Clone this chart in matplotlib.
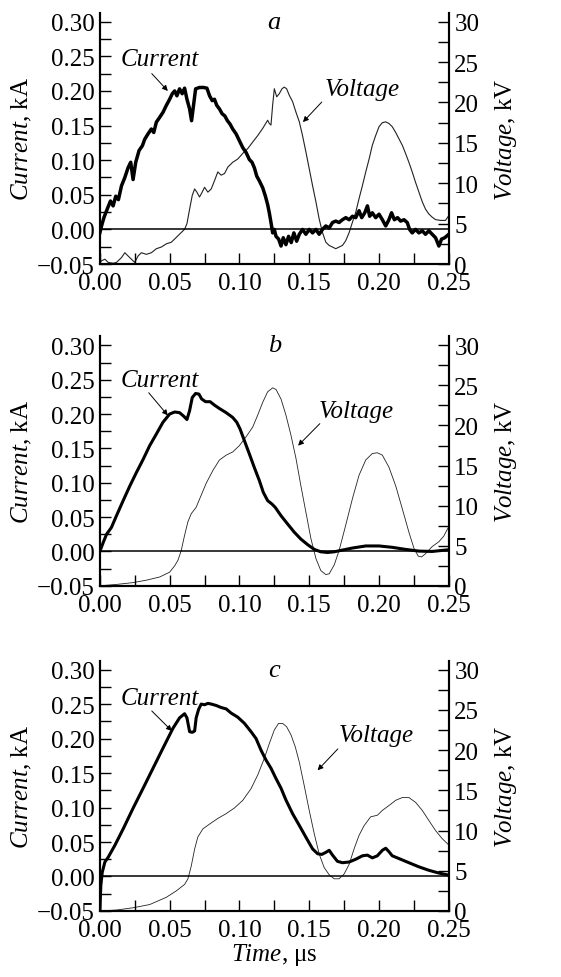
import matplotlib
matplotlib.use("Agg")
import matplotlib.pyplot as plt
from matplotlib.ticker import MultipleLocator

plt.rcParams.update({
    'font.family': 'Liberation Serif',
    'font.size': 18,
    'mathtext.fontset': 'custom',
    'mathtext.rm': 'Liberation Serif',
    'mathtext.it': 'Liberation Serif:italic',
})

# ---- panel a: measured (noisy) ----
a_cur_t = [0, 0.0012, 0.0029, 0.0052, 0.0076, 0.0095, 0.0114, 0.0133, 0.0155, 0.0179,
           0.0202, 0.0221, 0.0238, 0.0257, 0.0281, 0.0305, 0.0321, 0.0345, 0.0369, 0.0386,
           0.0405, 0.0429, 0.0452, 0.0476, 0.05, 0.0519, 0.0536, 0.0552, 0.0571, 0.059,
           0.0607, 0.0624, 0.0643, 0.0657, 0.0671, 0.0686, 0.0714, 0.0743, 0.0767, 0.0786,
           0.0805, 0.0821, 0.0838, 0.0857, 0.0876, 0.0895, 0.0914, 0.0933, 0.0952, 0.0976,
           0.10, 0.1024, 0.1048, 0.1071, 0.109, 0.1107, 0.1124, 0.1143, 0.1167, 0.1186,
           0.1202, 0.1214, 0.1226, 0.1238, 0.125, 0.1262, 0.1281, 0.1298, 0.1314, 0.1333,
           0.1352, 0.1371, 0.139, 0.141, 0.1429, 0.1452, 0.1476, 0.15, 0.1524, 0.1548,
           0.1571, 0.1595, 0.1619, 0.1643, 0.1667, 0.169, 0.1714, 0.1738, 0.1762, 0.1786,
           0.181, 0.1833, 0.1857, 0.1876, 0.1898, 0.1917, 0.1933, 0.1952, 0.1976, 0.2,
           0.2024, 0.2048, 0.2071, 0.209, 0.211, 0.2133, 0.2155, 0.2179, 0.2202, 0.2219,
           0.2238, 0.2262, 0.2286, 0.231, 0.2333, 0.2357, 0.2381, 0.2405, 0.2429, 0.2448,
           0.2471, 0.25]
a_cur_i = [-0.005, 0.005, 0.017, 0.029, 0.041, 0.034, 0.048, 0.043, 0.063, 0.075,
           0.089, 0.097, 0.072, 0.097, 0.114, 0.121, 0.130, 0.138, 0.145, 0.140,
           0.155, 0.162, 0.169, 0.179, 0.188, 0.196, 0.200, 0.193, 0.203, 0.196,
           0.204, 0.188, 0.174, 0.157, 0.179, 0.203, 0.205, 0.205, 0.204, 0.193,
           0.186, 0.188, 0.179, 0.174, 0.167, 0.164, 0.157, 0.152, 0.145, 0.138,
           0.128, 0.118, 0.111, 0.101, 0.097, 0.089, 0.077, 0.070, 0.060, 0.048,
           0.036, 0.024, 0.010, -0.005, 0.000, -0.010, -0.014, -0.024, -0.012, -0.022,
           -0.010, -0.019, -0.005, -0.017, -0.007, 0.000, -0.007, 0.000, -0.005, 0.000,
           -0.007, 0.000, 0.005, 0.002, 0.010, 0.012, 0.010, 0.014, 0.017, 0.014,
           0.019, 0.017, 0.027, 0.017, 0.024, 0.034, 0.019, 0.024, 0.017, 0.022,
           0.014, 0.005, 0.014, 0.024, 0.014, 0.017, 0.012, 0.014, 0.010, 0.000,
           -0.005, 0.000, -0.005, -0.002, -0.007, -0.002, -0.007, -0.012, -0.024, -0.014,
           -0.012, -0.007]
a_volt_t = [0, 0.0012, 0.0036, 0.006, 0.0095, 0.0119, 0.0155, 0.0179, 0.0202, 0.0226,
            0.025, 0.0274, 0.0298, 0.0333, 0.0369, 0.0405, 0.044, 0.0476, 0.0512, 0.0536,
            0.0571, 0.0607, 0.0624, 0.0643, 0.0662, 0.0679, 0.0695, 0.0714, 0.0733, 0.075,
            0.0774, 0.0798, 0.0821, 0.0845, 0.0869, 0.0893, 0.0917, 0.0952, 0.0988, 0.1024,
            0.106, 0.1095, 0.1131, 0.1167, 0.1202, 0.1214, 0.1226, 0.1238, 0.125, 0.1267,
            0.1286, 0.1305, 0.1321, 0.1338, 0.1357, 0.1381, 0.1405, 0.1429, 0.1452, 0.1476,
            0.15, 0.1524, 0.1548, 0.1571, 0.1595, 0.1619, 0.1643, 0.1667, 0.169, 0.1714,
            0.1738, 0.1762, 0.1786, 0.181, 0.1833, 0.1857, 0.1881, 0.1905, 0.1929, 0.1952,
            0.1976, 0.2, 0.2024, 0.2048, 0.2071, 0.2095, 0.2119, 0.2143, 0.2167, 0.219,
            0.2214, 0.2238, 0.2262, 0.2286, 0.231, 0.2333, 0.2357, 0.2381, 0.2405, 0.244,
            0.2476, 0.25]
a_volt_v = [0.2, 0.4, 0.6, 0.2, 0.1, 0.2, 0.8, 1.4, 1.0, 0.6,
            0.2, 1.0, 1.4, 1.2, 1.4, 1.9, 2.1, 2.5, 2.7, 3.1,
            3.7, 4.3, 5.0, 6.8, 8.5, 9.3, 8.9, 8.3, 8.9, 9.5,
            8.9, 9.3, 10.3, 11.4, 11.0, 11.2, 12.0, 12.6, 13.0, 13.7,
            14.3, 15.1, 15.9, 16.8, 17.8, 17.4, 17.2, 19.7, 21.7, 20.7,
            21.1, 21.7, 21.9, 21.7, 20.9, 20.1, 18.8, 17.6, 15.9, 13.9,
            11.8, 9.7, 7.7, 5.6, 3.9, 2.7, 2.3, 2.1, 1.9, 2.1,
            2.3, 2.9, 3.9, 5.2, 6.4, 8.1, 9.7, 11.4, 13.0, 14.7,
            15.9, 17.0, 17.5, 17.6, 17.4, 17.0, 16.3, 15.5, 14.7, 13.7,
            12.6, 11.4, 10.1, 8.9, 7.7, 6.8, 6.2, 5.8, 5.5, 5.4,
            5.4, 6.0]

# ---- panel b: calculated ----
b_cur_t = [0, 0.0024, 0.0048, 0.0083, 0.0119, 0.0167, 0.0214, 0.0262, 0.031, 0.0357,
           0.0405, 0.0452, 0.05, 0.0536, 0.0571, 0.06, 0.0624, 0.0643, 0.0662, 0.0686,
           0.071, 0.0729, 0.0757, 0.079, 0.0821, 0.0857, 0.0905, 0.0952, 0.0981, 0.1005,
           0.1036, 0.1071, 0.1107, 0.1143, 0.1171, 0.1202, 0.1233, 0.1257, 0.1298, 0.1345,
           0.1393, 0.144, 0.1488, 0.1536, 0.1583, 0.1631, 0.1679, 0.1738, 0.181, 0.1905,
           0.2, 0.2095, 0.219, 0.2286, 0.2381, 0.25]
b_cur_i = [0, 0.013, 0.025, 0.035, 0.052, 0.074, 0.095, 0.115, 0.134, 0.154,
           0.171, 0.188, 0.200, 0.203, 0.202, 0.197, 0.192, 0.205, 0.224, 0.230,
           0.229, 0.222, 0.218, 0.218, 0.213, 0.208, 0.202, 0.195, 0.188, 0.178,
           0.161, 0.142, 0.122, 0.103, 0.086, 0.074, 0.069, 0.064, 0.052, 0.040,
           0.028, 0.018, 0.010, 0.003, -0.0005, -0.0015, -0.0005, 0.002, 0.005, 0.008,
           0.008, 0.006, 0.003, 0.0005, 0.0, 0.0025]
b_volt_t = [0, 0.0119, 0.0238, 0.0333, 0.0429, 0.05, 0.0536, 0.056, 0.0583, 0.0607,
            0.0631, 0.0655, 0.069, 0.0726, 0.0762, 0.081, 0.0857, 0.0905, 0.0952, 0.10,
            0.1048, 0.1095, 0.1131, 0.1167, 0.1202, 0.1238, 0.1262, 0.1298, 0.1333, 0.1369,
            0.1405, 0.144, 0.1476, 0.1512, 0.1548, 0.1583, 0.1619, 0.1643, 0.1679, 0.1714,
            0.1762, 0.181, 0.1857, 0.1905, 0.1952, 0.1988, 0.2024, 0.2071, 0.2119, 0.2167,
            0.2214, 0.225, 0.2281, 0.2305, 0.2333, 0.2381, 0.2429, 0.2464, 0.25]
b_volt_v = [0, 0.17, 0.4, 0.7, 1.1, 1.7, 2.5, 3.2, 4.4, 6.3,
            8.0, 9.0, 9.8, 11.3, 12.8, 14.4, 15.7, 16.3, 16.7, 17.5,
            18.6, 19.8, 21.3, 22.9, 24.2, 24.7, 24.5, 23.3, 21.3, 18.8,
            15.9, 12.5, 9.2, 5.9, 3.4, 1.9, 1.4, 1.5, 2.6, 4.4,
            7.6, 10.9, 13.8, 15.7, 16.5, 16.6, 16.3, 14.8, 12.5, 9.6,
            6.7, 4.7, 3.7, 3.6, 4.0, 4.9, 5.5, 6.2, 7.4]

# ---- panel c: calculated ----
c_cur_t = [0, 0.0007, 0.0017, 0.0036, 0.006, 0.0107, 0.0167, 0.0238, 0.031, 0.0381,
           0.0452, 0.0524, 0.0571, 0.0607, 0.0624, 0.0643, 0.0662, 0.0679, 0.069, 0.0707,
           0.0726, 0.075, 0.0774, 0.0798, 0.0833, 0.0869, 0.0905, 0.094, 0.0988, 0.1036,
           0.1083, 0.1119, 0.1155, 0.119, 0.1226, 0.1262, 0.1298, 0.1333, 0.1381, 0.1429,
           0.1476, 0.1524, 0.156, 0.159, 0.1619, 0.1643, 0.1667, 0.1702, 0.1738, 0.1786,
           0.1833, 0.1881, 0.1917, 0.1952, 0.1988, 0.2024, 0.2048, 0.2071, 0.2095, 0.2143,
           0.2214, 0.2286, 0.2357, 0.2429, 0.25]
c_cur_i = [-0.05, -0.013, 0.006, 0.021, 0.028, 0.045, 0.069, 0.099, 0.128, 0.157,
           0.186, 0.215, 0.230, 0.236, 0.230, 0.210, 0.209, 0.211, 0.230, 0.242,
           0.250, 0.249, 0.251, 0.250, 0.248, 0.245, 0.243, 0.237, 0.231, 0.222,
           0.210, 0.200, 0.183, 0.169, 0.157, 0.142, 0.128, 0.111, 0.091, 0.074,
           0.057, 0.040, 0.033, 0.032, 0.035, 0.038, 0.031, 0.022, 0.020, 0.021,
           0.025, 0.030, 0.031, 0.027, 0.030, 0.038, 0.041, 0.036, 0.030, 0.026,
           0.020, 0.014, 0.009, 0.005, 0.002]
c_volt_t = [0, 0.0119, 0.0238, 0.0357, 0.0476, 0.0548, 0.0607, 0.0631, 0.0655, 0.0679,
            0.0702, 0.0738, 0.0786, 0.0845, 0.0905, 0.0964, 0.1024, 0.1083, 0.1131, 0.1179,
            0.1214, 0.125, 0.128, 0.131, 0.1338, 0.1369, 0.14, 0.1429, 0.1464, 0.15,
            0.1536, 0.1571, 0.1607, 0.1643, 0.1679, 0.1714, 0.175, 0.1786, 0.1821, 0.1857,
            0.1893, 0.194, 0.1988, 0.2024, 0.2071, 0.2119, 0.2167, 0.2214, 0.2262, 0.231,
            0.2357, 0.2405, 0.2452, 0.25]
c_volt_v = [0, 0.12, 0.4, 0.8, 1.7, 2.5, 3.3, 4.0, 5.6, 7.7,
            9.2, 10.2, 10.8, 11.5, 12.1, 12.8, 13.75, 15.2, 16.9, 19.0,
            20.8, 22.5, 23.3, 23.3, 22.9, 21.9, 20.4, 18.5, 15.6, 12.5,
            9.6, 7.1, 5.4, 4.5, 4.0, 4.0, 4.6, 5.8, 7.7, 9.4,
            10.6, 11.7, 11.9, 12.5, 13.1, 13.75, 14.1, 14.1, 13.5, 12.5,
            11.25, 10.0, 9.0, 8.2]

panels = [
    ('a', a_cur_t, a_cur_i, a_volt_t, a_volt_v, 2.5, 0.8,
     [(0.043, 0.246), (0.0372, 0.225), (0.0487, 0.200)],
     [(0.188, 0.203), (0.159, 0.184), (0.1455, 0.155)]),
    ('b', b_cur_t, b_cur_i, b_volt_t, b_volt_v, 2.2, 0.6,
     [(0.043, 0.249), (0.035, 0.231), (0.0487, 0.198)],
     [(0.184, 0.204), (0.1576, 0.186), (0.142, 0.154)]),
    ('c', c_cur_t, c_cur_i, c_volt_t, c_volt_v, 2.2, 0.6,
     [(0.043, 0.259), (0.0372, 0.240), (0.0516, 0.211)],
     [(0.198, 0.205), (0.1705, 0.185), (0.156, 0.154)]),
]

# axes boxes in figure fraction (left, bottom, width, height)
boxes = [(0.178, 0.729, 0.622, 0.257),
         (0.178, 0.400, 0.622, 0.255),
         (0.178, 0.0675, 0.622, 0.256)]

ytop = 0.313
fig = plt.figure(figsize=(5.61, 9.78), dpi=100)

for (letter, ct, ci, vt, vv, clw, vlw, cann, vann), box in zip(panels, boxes):
    ax = fig.add_axes(box)
    ax2 = ax.twinx()
    ax.set_zorder(ax2.get_zorder() + 1)
    ax.patch.set_visible(False)

    ax2.plot(vt, vv, color='#222222', lw=vlw)
    ax.plot(ct, ci, color='black', lw=clw)
    ax.axhline(0, color='black', lw=1.1)

    ax.set_xlim(0, 0.25)
    ax.set_ylim(-0.05, ytop)
    ax2.set_ylim(0, (ytop + 0.05) / 0.35 * 30)

    ax.xaxis.set_minor_locator(MultipleLocator(0.025))
    ax.yaxis.set_minor_locator(MultipleLocator(0.025))
    ax2.yaxis.set_major_locator(MultipleLocator(5))
    ax2.yaxis.set_minor_locator(MultipleLocator(2.5))
    ax.set_yticks([-0.05, 0, 0.05, 0.10, 0.15, 0.20, 0.25, 0.30])
    ax.set_yticklabels(['\u22120.05', '0.00', '0.05', '0.10', '0.15', '0.20', '0.25', '0.30'])
    ax.set_xticks([0, 0.05, 0.10, 0.15, 0.20, 0.25])
    ax.set_xticklabels(['0.00', '0.05', '0.10', '0.15', '0.20', '0.25'])

    for a in (ax, ax2):
        a.spines['top'].set_visible(False)
        for s in ('left', 'right', 'bottom'):
            a.spines[s].set_linewidth(1.5)
        a.tick_params(which='both', direction='in', length=8, width=1.0,
                      labelsize=18, pad=4)
    ax.tick_params(axis='y', which='both', right=False)
    ax2.tick_params(axis='y', which='both', left=False)
    ax.tick_params(axis='x', pad=6)

    ax.set_ylabel(r'$\mathit{Current}$, kA', fontsize=18, labelpad=2)
    ax2.set_ylabel(r'$\mathit{Voltage}$, kV', fontsize=18, labelpad=10)

    ax.text(0.125, 0.30, letter, fontsize=19, style='italic',
            ha='center', va='center')

    ax.text(cann[0][0], cann[0][1], 'Current', fontsize=18, style='italic',
            ha='center', va='center')
    ax.annotate('', xy=cann[2], xytext=cann[1],
                arrowprops=dict(arrowstyle='-|>', lw=0.7, color='black',
                                mutation_scale=8, shrinkA=0, shrinkB=0))
    ax.text(vann[0][0], vann[0][1], 'Voltage', fontsize=18, style='italic',
            ha='center', va='center')
    ax.annotate('', xy=vann[2], xytext=vann[1],
                arrowprops=dict(arrowstyle='-|>', lw=0.7, color='black',
                                mutation_scale=8, shrinkA=0, shrinkB=0))

ax.set_xlabel(r'$\mathit{Time}$, μs', fontsize=18, labelpad=0)

fig.savefig('out.png', dpi=100)
